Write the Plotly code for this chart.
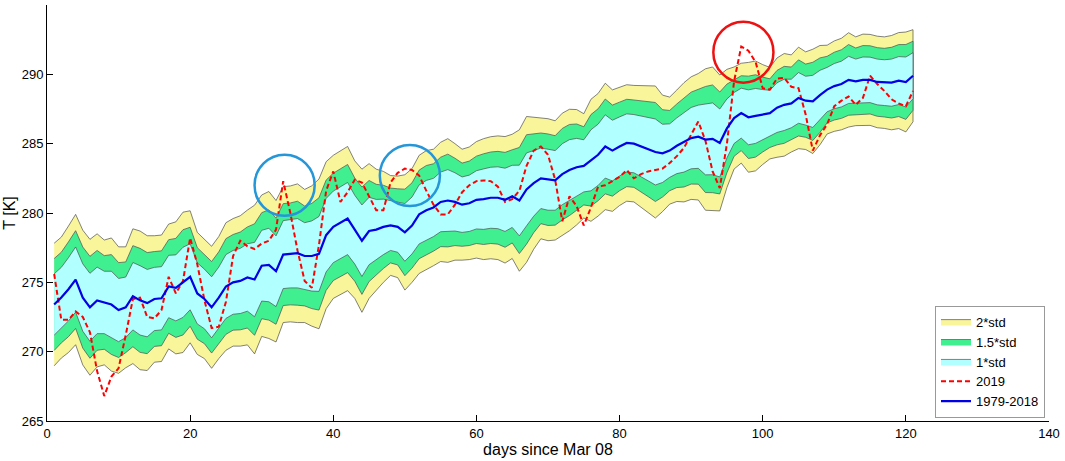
import plotly.graph_objects as go

# days since Mar 08 (1..121)
days = list(range(1, 122))

# climatological mean 1979-2018 [K]
mean_1979_2018 = [
    273.4, 273.9, 274.5, 275.2, 273.9, 273.2, 273.7, 273.55, 273.4, 273.0,
    273.2, 274.0, 273.7, 273.5, 273.8, 273.85, 274.7, 274.6, 275.0, 275.4,
    274.2, 273.8, 273.2, 273.9, 274.7, 275.0, 275.1, 275.35, 275.2, 276.2,
    276.25, 275.8, 277.0, 277.05, 277.1, 276.9, 276.9, 277.05, 278.4, 279.0,
    279.3, 279.6, 278.8, 278.0, 278.7, 278.8, 279.0, 279.1, 279.0, 278.6,
    279.1, 279.9, 280.2, 280.4, 280.8, 280.9, 280.8, 280.6, 280.7, 280.95,
    281.0, 281.1, 281.1, 280.95, 281.2, 280.9, 281.7, 282.15, 282.5, 282.4,
    282.35, 282.8, 283.1, 283.3, 283.4, 283.8, 284.2, 284.8, 284.5, 284.8,
    285.05, 285.0, 284.8, 284.6, 284.4, 284.3, 284.5, 284.85, 285.1, 285.4,
    285.5, 285.3, 285.35, 285.05, 286.1, 286.85, 287.2, 286.9, 287.0, 287.1,
    287.2, 287.6, 287.8, 287.9, 288.3, 288.1, 288.05, 288.5, 288.9, 289.15,
    289.3, 289.6, 289.5, 289.6, 289.6, 289.45, 289.4, 289.4, 289.55, 289.45,
    289.9,
]

# standard deviation 1979-2018 [K]
std_1979_2018 = [
    2.21, 2.18, 2.28, 2.35, 2.43, 2.45, 2.40, 2.25, 2.40, 2.28,
    2.18, 2.43, 2.50, 2.43, 2.28, 2.28, 2.25, 2.38, 2.53, 2.38,
    2.20, 2.15, 2.20, 2.20, 2.30, 2.30, 2.35, 2.43, 2.68, 2.55,
    2.65, 2.55, 2.45, 2.45, 2.50, 2.40, 2.53, 2.70, 2.65, 2.58,
    2.58, 2.60, 2.48, 2.58, 2.43, 2.18, 2.00, 1.80, 1.83, 2.08,
    2.05, 2.13, 2.15, 2.10, 2.15, 2.23, 2.10, 2.00, 2.03, 2.10,
    2.18, 2.20, 2.23, 2.28, 2.24, 2.55, 2.63, 2.38, 2.18, 2.20,
    2.15, 2.20, 2.19, 2.08, 1.88, 2.20, 2.21, 2.28, 2.19, 2.13,
    2.10, 2.10, 2.20, 2.28, 2.38, 2.10, 1.93, 2.01, 2.15, 2.21,
    2.28, 2.55, 2.59, 2.45, 2.13, 1.84, 1.80, 1.98, 1.98, 1.80,
    1.65, 1.79, 1.85, 1.75, 1.83, 1.76, 1.88, 1.79, 1.60, 1.63,
    1.65, 1.70, 1.60, 1.65, 1.64, 1.65, 1.65, 1.70, 1.73, 1.80,
    1.66,
]

# 2019 temperature [K]
t_2019 = [
    275.6, 272.3, 272.3, 272.9, 272.5, 271.4, 268.6, 266.8, 268.2, 268.8,
    271.2, 273.8, 273.9, 272.5, 272.4, 273.0, 275.4, 274.2, 275.1, 278.2,
    276.3, 273.7, 271.7, 271.8, 273.6, 276.9, 278.0, 277.6, 277.4, 277.8,
    278.0, 278.8, 282.3, 280.0, 277.3, 275.1, 274.6, 277.7, 281.6, 283.0,
    280.8, 281.5, 282.4, 282.2, 281.2, 280.2, 280.2, 282.2, 282.9, 283.2,
    283.1, 282.7, 281.6, 280.6, 279.9, 279.9, 280.6, 281.5, 282.0, 282.3,
    282.35, 282.3, 281.9, 280.8, 281.0, 281.6, 283.4, 284.5, 284.8, 284.2,
    282.4, 279.4, 281.2, 280.5, 279.1, 280.4, 281.9, 282.0, 282.3, 282.6,
    283.1, 282.5, 282.8, 283.0, 283.1, 283.2, 283.6, 284.1, 284.7, 285.6,
    286.6, 285.2, 283.0, 281.8, 285.0, 289.5, 292.0, 291.7, 290.9, 289.0,
    288.9, 289.7, 289.75, 289.1, 289.0, 287.1, 284.5, 285.6, 286.4, 287.7,
    288.1, 288.4, 287.8, 288.3, 289.9, 289.3, 288.8, 288.2, 287.9, 287.7,
    288.8,
]

# highlighted events (day, T) and their radius (days, K)
blue_circles = [(33.2, 282.0), (50.7, 282.7)]
red_circles = [(97.3, 291.6)]
circle_r = (4.2, 2.2)


def band(k):
    upper = [m + k * s for m, s in zip(mean_1979_2018, std_1979_2018)]
    lower = [m - k * s for m, s in zip(mean_1979_2018, std_1979_2018)]
    return days + days[::-1], upper + lower[::-1]


fig = go.Figure()

bands = [(2.0, '2*std', '#f9f59b'), (1.5, '1.5*std', '#40ef90'), (1.0, '1*std', '#b2ffff')]
for k, name, color in bands:
    bx, by = band(k)
    fig.add_trace(go.Scatter(x=bx, y=by, fill='toself', fillcolor=color, mode='lines',
                             line=dict(color='#4d4d4d', width=0.7), name=name, hoverinfo='skip'))

fig.add_trace(go.Scatter(x=days, y=t_2019, mode='lines', name='2019',
                         line=dict(color='#ff0000', width=2, dash='5px,3px')))
fig.add_trace(go.Scatter(x=days, y=mean_1979_2018, mode='lines', name='1979-2018',
                         line=dict(color='#0000e6', width=2.2)))

shapes = []
for (cx, cy) in blue_circles:
    shapes.append(dict(type='circle', xref='x', yref='y', x0=cx - circle_r[0], x1=cx + circle_r[0],
                       y0=cy - circle_r[1], y1=cy + circle_r[1], line=dict(color='#2596d8', width=2.5)))
for (cx, cy) in red_circles:
    shapes.append(dict(type='circle', xref='x', yref='y', x0=cx - circle_r[0], x1=cx + circle_r[0],
                       y0=cy - circle_r[1], y1=cy + circle_r[1], line=dict(color='#ee1111', width=2.5)))

fig.update_layout(
    width=1065, height=461,
    margin=dict(l=47, r=14, t=5, b=40),
    paper_bgcolor='white', plot_bgcolor='white',
    font=dict(family='Liberation Sans, Arial, sans-serif', size=13, color='black'),
    shapes=shapes,
    showlegend=True,
    legend=dict(x=0.996, y=0.008, xanchor='right', yanchor='bottom',
                bgcolor='white', bordercolor='#999999', borderwidth=1,
                font=dict(size=13), tracegroupgap=0, itemwidth=30),
    xaxis=dict(range=[0, 140], tickvals=list(range(0, 141, 20)), showgrid=False, zeroline=False,
               showline=True, linecolor='black', linewidth=1, ticks='inside', ticklen=6,
               tickcolor='black', title=dict(text='days since Mar 08', standoff=4)),
    yaxis=dict(range=[265, 295], tickvals=list(range(265, 296, 5)), showgrid=False, zeroline=False,
               showline=True, linecolor='black', linewidth=1, ticks='inside', ticklen=6,
               tickcolor='black', title=dict(text='T [K]', standoff=2)),
)

# the page's default body margin would shift the figure; remove it
fig.write_html("out.html", config={'displayModeBar': False},
               post_script="document.body.style.margin='0';")
